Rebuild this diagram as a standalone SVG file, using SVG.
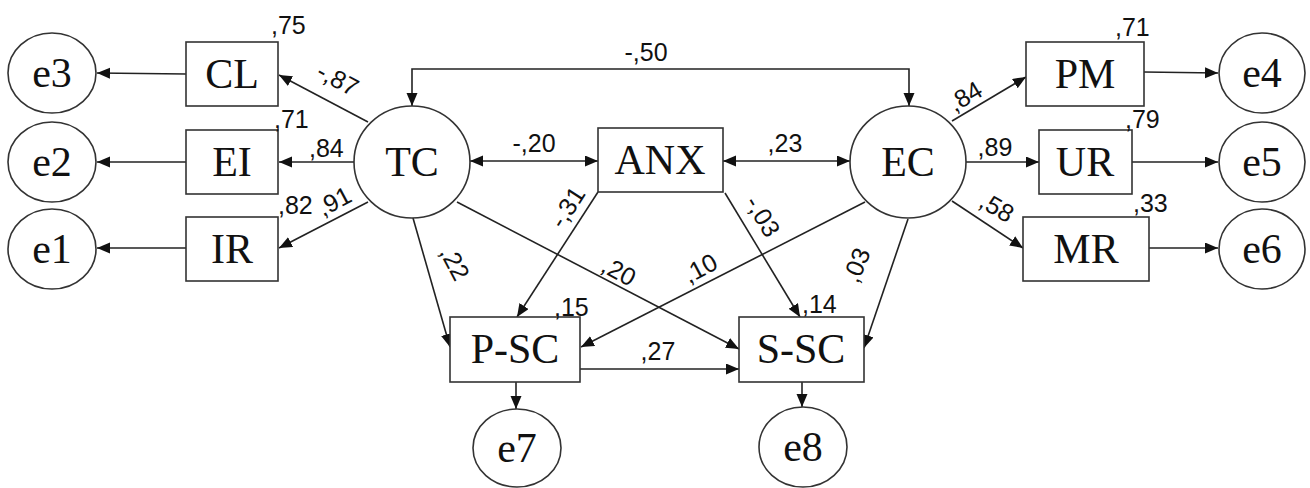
<svg xmlns="http://www.w3.org/2000/svg" width="1310" height="488" viewBox="0 0 1310 488">
<style>
.n{fill:#fff;stroke:#333;stroke-width:1.6}
.t{font-family:"Liberation Serif","DejaVu Serif",serif;font-size:42px;fill:#111;text-anchor:middle;dominant-baseline:central}
.c{fill:none;stroke:#222;stroke-width:1.6}
.l{font-family:"Liberation Sans","DejaVu Sans",sans-serif;font-size:25px;fill:#111}
.m{text-anchor:middle;dominant-baseline:central}
</style>
<defs>
<marker id="a" markerUnits="userSpaceOnUse" markerWidth="14" markerHeight="12" refX="13" refY="5.5" orient="auto-start-reverse"><path d="M0,0 L13,5.5 L0,11 Z" fill="#111"/></marker>
</defs>
<rect width="1310" height="488" fill="#fff"/>
<g id="connectors">
<path class="c" d="M186,74 L97,73" marker-end="url(#a)"/>
<path class="c" d="M186,162 L97,162" marker-end="url(#a)"/>
<path class="c" d="M186,248 L97,248" marker-end="url(#a)"/>
<path class="c" d="M368,122 L279,75" marker-end="url(#a)"/>
<path class="c" d="M354,162 L279,162" marker-end="url(#a)"/>
<path class="c" d="M368,202 L279,248" marker-end="url(#a)"/>
<path class="c" d="M412,106 L412,69 L909,69 L909,106" marker-start="url(#a)" marker-end="url(#a)"/>
<path class="c" d="M470,161 L598,161" marker-start="url(#a)" marker-end="url(#a)"/>
<path class="c" d="M723,161 L850,161" marker-start="url(#a)" marker-end="url(#a)"/>
<path class="c" d="M952,121 L1026,77" marker-end="url(#a)"/>
<path class="c" d="M966,162 L1039,162" marker-end="url(#a)"/>
<path class="c" d="M952,201 L1023,248" marker-end="url(#a)"/>
<path class="c" d="M1144,72 L1218,73" marker-end="url(#a)"/>
<path class="c" d="M1132,162 L1218,162" marker-end="url(#a)"/>
<path class="c" d="M1149,248 L1218,248" marker-end="url(#a)"/>
<path class="c" d="M413,218 L450,347" marker-end="url(#a)"/>
<path class="c" d="M598,192 L517,317" marker-end="url(#a)"/>
<path class="c" d="M457,202 L739,349" marker-end="url(#a)"/>
<path class="c" d="M865,202 L581,347" marker-end="url(#a)"/>
<path class="c" d="M725,193 L800,317" marker-end="url(#a)"/>
<path class="c" d="M908,219 L864,348" marker-end="url(#a)"/>
<path class="c" d="M580,369 L739,369" marker-end="url(#a)"/>
<path class="c" d="M516,382 L516,409" marker-end="url(#a)"/>
<path class="c" d="M802,382 L802,407" marker-end="url(#a)"/>
</g>
<g id="e3"><ellipse class="n" cx="52" cy="73" rx="44" ry="40"/><text class="t" x="52" y="73">e3</text></g>
<g id="e2"><ellipse class="n" cx="52" cy="162" rx="44" ry="40"/><text class="t" x="52" y="162">e2</text></g>
<g id="e1"><ellipse class="n" cx="52" cy="249" rx="44" ry="40"/><text class="t" x="52" y="249">e1</text></g>
<g id="e4"><ellipse class="n" cx="1262" cy="73" rx="43" ry="40"/><text class="t" x="1262" y="73">e4</text></g>
<g id="e5"><ellipse class="n" cx="1262" cy="162" rx="43" ry="40"/><text class="t" x="1262" y="162">e5</text></g>
<g id="e6"><ellipse class="n" cx="1262" cy="249" rx="43" ry="40"/><text class="t" x="1262" y="249">e6</text></g>
<g id="e7"><ellipse class="n" cx="517" cy="448" rx="44" ry="39"/><text class="t" x="517" y="448">e7</text></g>
<g id="e8"><ellipse class="n" cx="803" cy="447" rx="44" ry="40"/><text class="t" x="803" y="447">e8</text></g>
<g id="CL"><rect class="n" x="186" y="42" width="92" height="64"/><text class="t" x="232" y="74">CL</text></g>
<g id="EI"><rect class="n" x="186" y="130" width="92" height="64"/><text class="t" x="232" y="162">EI</text></g>
<g id="IR"><rect class="n" x="186" y="217" width="92" height="64"/><text class="t" x="232" y="249">IR</text></g>
<g id="PM"><rect class="n" x="1026" y="42" width="118" height="64"/><text class="t" x="1085" y="74">PM</text></g>
<g id="UR"><rect class="n" x="1039" y="130" width="93" height="64"/><text class="t" x="1085" y="162">UR</text></g>
<g id="MR"><rect class="n" x="1023" y="217" width="126" height="64"/><text class="t" x="1086" y="249">MR</text></g>
<g id="ANX"><rect class="n" x="598" y="128" width="125" height="64"/><text class="t" x="660" y="160">ANX</text></g>
<g id="P-SC"><rect class="n" x="450" y="317" width="130" height="65"/><text class="t" x="515" y="349">P-SC</text></g>
<g id="S-SC"><rect class="n" x="739" y="317" width="125" height="65"/><text class="t" x="801" y="349">S-SC</text></g>
<g id="TC"><ellipse class="n" cx="412" cy="162" rx="58" ry="56"/><text class="t" x="412" y="162">TC</text></g>
<g id="EC"><ellipse class="n" cx="908" cy="162" rx="58" ry="56"/><text class="t" x="908" y="162">EC</text></g>
<g id="labels">
<text class="l" x="271" y="34">,75</text>
<text class="l" x="274" y="128">,71</text>
<text class="l" x="278" y="214">,82</text>
<text class="l" x="309" y="157">,84</text>
<text class="l m" transform="translate(338,79) rotate(28)">-,87</text>
<text class="l m" transform="translate(334,201) rotate(-28)">,91</text>
<text class="l m" x="646" y="52">-,50</text>
<text class="l m" x="534" y="143">-,20</text>
<text class="l m" x="785" y="143">,23</text>
<text class="l m" transform="translate(965,96) rotate(-31)">,84</text>
<text class="l m" x="995" y="147">,89</text>
<text class="l m" transform="translate(997,207) rotate(30)">,58</text>
<text class="l" x="1115" y="36">,71</text>
<text class="l" x="1125" y="128">,79</text>
<text class="l" x="1133" y="212">,33</text>
<text class="l m" transform="translate(455,263) rotate(62)">,22</text>
<text class="l m" transform="translate(567,207) rotate(-57)">-,31</text>
<text class="l m" transform="translate(619,271) rotate(28)">,20</text>
<text class="l m" transform="translate(700,268) rotate(-28)">,10</text>
<text class="l m" transform="translate(763,216) rotate(59)">-,03</text>
<text class="l m" transform="translate(856,265) rotate(-68)">,03</text>
<text class="l m" x="658" y="351">,27</text>
<text class="l" x="554" y="316">,15</text>
<text class="l" x="802" y="313">,14</text>
</g>
</svg>
